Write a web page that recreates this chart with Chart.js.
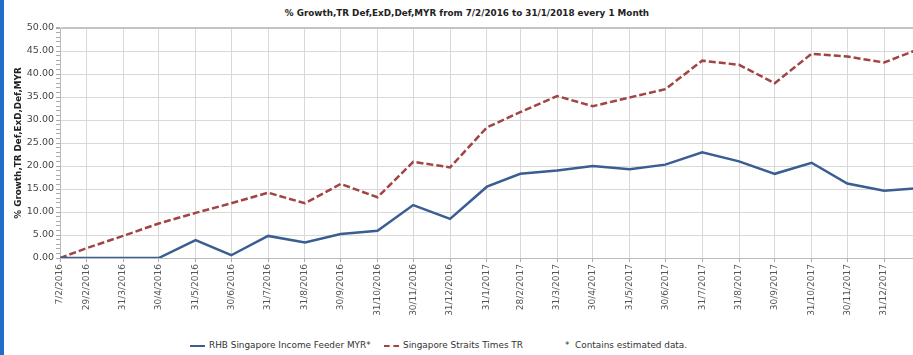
<!DOCTYPE html>
<html>
<head>
<meta charset="utf-8">
<script src="https://cdn.jsdelivr.net/npm/chart.js@4.4.1/dist/chart.umd.min.js"></script>
<style>
    html, body { margin: 0; padding: 0; background: #fff; overflow: hidden; }
    #wrap { position: relative; width: 913px; height: 355px; overflow: hidden; font-family: "DejaVu Sans", Verdana, sans-serif; }
    #edge { position: absolute; left: 0; top: 0; width: 4px; height: 355px; background: #1e6ec8; z-index: 2; }
    #title { position: absolute; left: 0; top: 8px; width: 934px; text-align: center; font-weight: bold; font-size: 8.8px; color: #222; }
    #chartBox { position: absolute; left: 0; top: 0; width: 921px; height: 325px; }
    #legend { position: absolute; top: 340px; left: 0; width: 913px; height: 14px; font-size: 8.9px; color: #333; }
    .item { position: absolute; top: 0; white-space: nowrap; }
    .swatch { display: inline-block; width: 15px; height: 0; vertical-align: middle; margin-right: 4px; }
</style>
</head>
<body>
<div id="wrap">
    <div id="edge"></div>
    <div id="title">% Growth,TR Def,ExD,Def,MYR from 7/2/2016 to 31/1/2018 every 1 Month</div>
    <div id="chartBox"><canvas id="chart" width="921" height="325"></canvas></div>
    <div id="legend">
        <span class="item" style="left:190px"><span class="swatch" style="border-top:2px solid #3a5d92"></span>RHB Singapore Income Feeder MYR*</span>
        <span class="item" style="left:384px"><span class="swatch" style="border-top:2px dashed #a04444"></span>Singapore Straits Times TR</span>
        <span class="item" style="left:565px">*&nbsp;&nbsp;Contains estimated data.</span>
    </div>
</div>
<script>
(function () {
    'use strict';

    // tick labels on the date axis (one per month end)
    var tickLabels = [
        '7/2/2016', '29/2/2016', '31/3/2016', '30/4/2016', '31/5/2016', '30/6/2016',
        '31/7/2016', '31/8/2016', '30/9/2016', '31/10/2016', '30/11/2016', '31/12/2016',
        '31/1/2017', '28/2/2017', '31/3/2017', '30/4/2017', '31/5/2017', '30/6/2017',
        '31/7/2017', '31/8/2017', '30/9/2017', '31/10/2017', '30/11/2017', '31/12/2017'
    ];
    var pointDates = tickLabels.concat(['31/1/2018']);

    var rhbGrowth = [
        0, 0, 0, 0, 3.9, 0.6, 4.8, 3.4, 5.2, 5.9, 11.5, 8.5,
        15.5, 18.3, 19.0, 20.0, 19.3, 20.3, 23.0, 21.0, 18.3, 20.7, 16.2, 14.6, 15.2
    ];
    var stiGrowth = [
        0, 2.1, 4.8, 7.5, 9.8, 11.9, 14.2, 11.9, 16.1, 13.2, 20.9, 19.7,
        28.4, 31.7, 35.2, 33.0, 34.9, 36.7, 42.9, 42.0, 38.0, 44.4, 43.8, 42.5, 45.6
    ];

    var seriesNames = ['RHB Singapore Income Feeder MYR*', 'Singapore Straits Times TR'];

    function dayNumber(str) {
        var p = str.split('/');
        return Date.UTC(+p[2], +p[1] - 1, +p[0]) / 86400000;
    }

    var start = dayNumber(pointDates[0]);
    var tickDays = tickLabels.map(function (s) { return dayNumber(s) - start; });
    var pointDays = pointDates.map(function (s) { return dayNumber(s) - start; });

    function toXY(values) {
        var out = [];
        for (var i = 0; i < values.length; i++) {
            out.push({ x: pointDays[i], y: values[i] });
        }
        return out;
    }

    var axisFont = { family: '"DejaVu Sans", Verdana, sans-serif', size: 9 };
    var gridColor = '#d9d9d9';

    new Chart(document.getElementById('chart'), {
        type: 'line',
        data: {
            datasets: [{
                label: seriesNames[0],
                data: toXY(rhbGrowth),
                borderColor: '#3a5d92',
                borderWidth: 2.5,
                pointRadius: 0,
                tension: 0
            }, {
                label: seriesNames[1],
                data: toXY(stiGrowth),
                borderColor: '#a04444',
                borderWidth: 2.5,
                borderDash: [7, 3],
                pointRadius: 0,
                tension: 0
            }]
        },
        options: {
            responsive: false,
            animation: false,
            events: [],
            layout: { padding: { top: 28, right: 0, bottom: 0, left: 0 } },
            plugins: {
                legend: { display: false },
                tooltip: { enabled: false },
                title: { display: false }
            },
            scales: {
                x: {
                    type: 'linear',
                    min: 0,
                    max: pointDays[pointDays.length - 1],
                    afterBuildTicks: function (scale) {
                        scale.ticks = tickDays.map(function (v) { return { value: v }; });
                    },
                    afterFit: function (scale) {
                        scale.height = 67;
                        scale.paddingRight = 0;
                        scale.paddingLeft = 0;
                    },
                    ticks: {
                        autoSkip: false,
                        minRotation: 90,
                        maxRotation: 90,
                        padding: 2,
                        color: '#555',
                        font: axisFont,
                        callback: function (value) {
                            var i = tickDays.indexOf(value);
                            return i >= 0 ? tickLabels[i] : '';
                        }
                    },
                    grid: { color: gridColor, tickLength: 4, tickColor: '#aaa' },
                    border: { color: '#bbb' }
                },
                y: {
                    min: 0,
                    max: 50,
                    afterFit: function (scale) {
                        scale.width = 60;
                    },
                    ticks: {
                        stepSize: 1,
                        maxTicksLimit: 100,
                        autoSkip: false,
                        padding: 2,
                        color: '#444',
                        font: { family: '"DejaVu Sans", Verdana, sans-serif', size: 9.5 },
                        callback: function (value) {
                            return value % 5 === 0 ? value.toFixed(2) : '';
                        }
                    },
                    grid: {
                        tickLength: 4,
                        tickColor: '#aaa',
                        color: function (ctx) {
                            if (!ctx.tick) { return gridColor; }
                            return ctx.tick.value % 5 === 0 ? (ctx.tick.value === 50 ? '#c4c4c4' : gridColor) : 'rgba(0,0,0,0)';
                        },
                        lineWidth: function (ctx) {
                            return ctx.tick && ctx.tick.value === 50 ? 2 : 1;
                        }
                    },
                    border: { color: '#bbb' },
                    title: {
                        display: true,
                        text: '% Growth,TR Def,ExD,Def,MYR',
                        color: '#222',
                        padding: { top: 13, bottom: 0 },
                        font: { family: '"DejaVu Sans", Verdana, sans-serif', size: 8.8, weight: 'bold' }
                    }
                }
            }
        }
    });
})();
</script>
</body>
</html>
